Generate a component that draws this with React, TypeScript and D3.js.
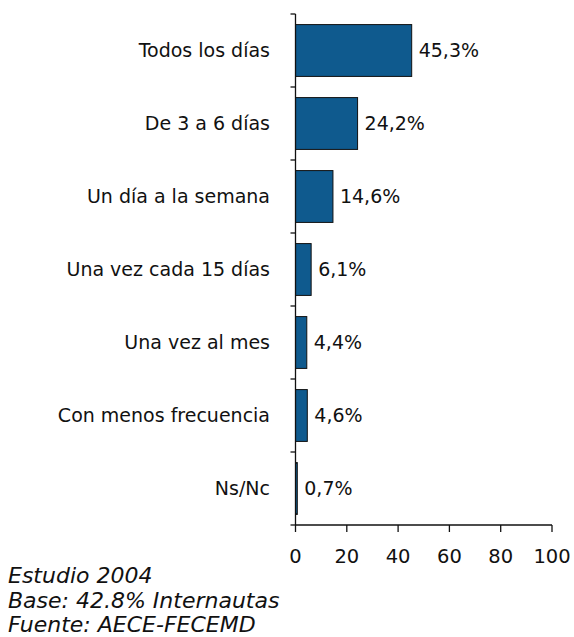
import React from "react";
import * as d3 from "d3";

const categories = [
  "Todos los días",
  "De 3 a 6 días",
  "Un día a la semana",
  "Una vez cada 15 días",
  "Una vez al mes",
  "Con menos frecuencia",
  "Ns/Nc",
];
const values = [45.3, 24.2, 14.6, 6.1, 4.4, 4.6, 0.7];
const valueLabels = ["45,3%", "24,2%", "14,6%", "6,1%", "4,4%", "4,6%", "0,7%"];
const xTicks = [0, 20, 40, 60, 80, 100];
const footer = ["Estudio 2004", "Base: 42.8% Internautas", "Fuente: AECE-FECEMD"];

const W = 574;
const H = 637;
const FONT = "'DejaVu Sans', Verdana, sans-serif";

export default function App() {
  const x = d3.scaleLinear().domain([0, 100]).range([295.5, 552]);
  const y = d3
    .scaleBand<string>()
    .domain(categories)
    .range([14, 525])
    .paddingInner(0.29)
    .paddingOuter(0.145);
  const step = y.step();
  const y0 = 14;
  const y1 = 525;

  return (
    <svg
      width={W}
      height={H}
      style={{ position: "absolute", left: 0, top: 0, background: "#fff" }}
      fontFamily={FONT}
    >
      {categories.map((c, i) => (
        <g key={c}>
          <rect
            x={x(0)}
            y={y(c)!}
            width={x(values[i]) - x(0)}
            height={y.bandwidth()}
            fill="#0F5A8E"
            stroke="#111"
            strokeWidth={1}
          />
          <text
            x={x(values[i]) + 7}
            y={y(c)! + y.bandwidth() / 2}
            dy="0.36em"
            fontSize={19}
            fill="#111"
          >
            {valueLabels[i]}
          </text>
          <text
            x={270}
            y={y(c)! + y.bandwidth() / 2}
            dy="0.36em"
            fontSize={19}
            textAnchor="end"
            fill="#111"
          >
            {c}
          </text>
        </g>
      ))}
      <line x1={x(0)} x2={x(0)} y1={y0} y2={y1} stroke="#111" strokeWidth={1.3} />
      {d3.range(categories.length + 1).map((k) => (
        <line
          key={k}
          x1={x(0) - 5}
          x2={x(0)}
          y1={y0 + k * step}
          y2={y0 + k * step}
          stroke="#111"
          strokeWidth={1.3}
        />
      ))}
      <line x1={x(0)} x2={x(100)} y1={y1} y2={y1} stroke="#111" strokeWidth={1.3} />
      {xTicks.map((t) => (
        <g key={t}>
          <line x1={x(t)} x2={x(t)} y1={y1} y2={y1 + 7} stroke="#111" strokeWidth={1.3} />
          <text x={x(t)} y={y1 + 38} fontSize={19.5} textAnchor="middle" fill="#111">
            {t}
          </text>
        </g>
      ))}
      {footer.map((f, i) => (
        <text
          key={f}
          x={8}
          y={583 + i * 24.5}
          fontSize={22}
          fontStyle="italic"
          fill="#111"
        >
          {f}
        </text>
      ))}
    </svg>
  );
}
